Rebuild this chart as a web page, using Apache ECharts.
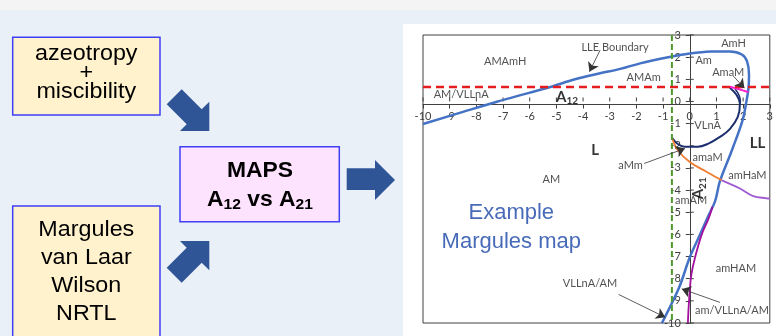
<!DOCTYPE html>
<html>
<head>
<meta charset="utf-8">
<script src="https://cdn.jsdelivr.net/npm/echarts@6/dist/echarts.min.js"></script>
<style>
  html, body { margin: 0; padding: 0; width: 776px; height: 336px; overflow: hidden; background: #e9f0f8; }
  #strip { position: absolute; left: 0; top: 0; width: 776px; height: 10px; background: #f4f4f4; }
  #panel { position: absolute; left: 403px; top: 24px; width: 373px; height: 312px; background: #ffffff; }
  #chart { position: absolute; left: 0; top: 0; width: 776px; height: 336px; }
</style>
</head>
<body>
<div id="strip"></div>
<div id="panel"></div>
<div id="chart"></div>
<script>
// Axis ranges of the A12 / A21 map
const xRange = [-10, 3];
const yRange = [-10, 3];
// Tick values on both axes
const xTicks = [-10, -9, -8, -7, -6, -5, -4, -3, -2, -1, 0, 1, 2, 3];
const yTicks = [-10, -9, -8, -7, -6, -5, -4, -3, -2, -1, 0, 1, 2, 3];

// Reference lines: A12 value (red) and A21 value (green)
const redDashY = 0.65;
const greenDashX = -0.67;

// LLE boundary (blue)
const lleBoundary = [
  [-10, -1.02], [-8.5, -0.47], [-7.2, 0], [-6.2, 0.33], [-5.23, 0.65], [-4.3, 1.0],
  [-3.4, 1.26], [-2.6, 1.47], [-1.86, 1.72], [-0.86, 1.98], [0, 2.16], [0.8, 2.25],
  [1.5, 2.26], [1.95, 2.12], [2.15, 1.8], [2.22, 1.2], [2.2, 0.6], [2.13, 0.05],
  [1.98, -0.84], [1.58, -2.2], [1.13, -3.6], [0.95, -4.5], [0.68, -5.2], [0.35, -6.1],
  [0, -7.03], [-0.4, -8.4], [-1.0, -9.9], [-1.05, -10]
];
// VLLnA region boundary (navy)
const vllnaBoundary = [
  [1.5, 0.62], [1.75, 0.3], [1.88, -0.1], [1.8, -0.7], [1.5, -1.25], [1.13, -1.6],
  [0.7, -1.9], [0.3, -2.04], [-0.2, -2.04], [-0.45, -1.92], [-0.67, -1.63]
];
const vllnaInner = [[1.7, 0.56], [1.86, 0.25], [1.9, -0.05]];
// AmaM boundary (pink)
const amamBoundary = [[1.5, 0.66], [1.85, 0.55], [2.2, 0.42]];
// amaM boundary (orange) and its continuation amHaM (purple)
const amaMBoundary = [[-0.67, -1.63], [-0.45, -2.2], [0, -2.73], [0.64, -3.18], [1.2, -3.56]];
const amHaMBoundary = [[1.2, -3.56], [1.88, -3.93], [2.38, -4.27], [2.88, -4.37], [3, -4.38]];
// amHAM boundary (magenta)
const amHAMBoundary = [[0.85, -4.75], [0.7, -5.3], [0.45, -6.0], [0.2, -7.03], [0.06, -7.8], [0.01, -8.38], [-0.05, -9.44], [-0.07, -10]];

// Region names and annotations: [text, x, y]
const regionNames = [
  ['AMAmH', -6.92, 1.80], ['AMAm', -1.73, 1.09], ['AM/VLLnA', -8.57, 0.33],
  ['Am', 0.52, 1.87], ['AmH', 1.64, 2.63], ['AmaM', 1.44, 1.33],
  ['VLnA', 0.67, -1.07], ['aMm', -2.22, -2.88], ['amaM', 0.67, -2.52],
  ['amHaM', 2.16, -3.33], ['amAM', 0.05, -4.45], ['AM', -5.19, -3.51],
  ['amHAM', 1.73, -7.55], ['VLLnA/AM', -3.74, -8.22], ['am/VLLnA/AM', 1.58, -9.44],
  ['LLE Boundary', -2.8, 2.46]
];
const boldNames = [['L', -3.55, -2.2], ['LL', 2.54, -1.88]];
const axisTitles = [['{a|A}{s|12}', -4.6, 0.2, 0], ['{a|A}{s|21}', 0.33, -3.92, 90]];
const titleLines = [['Example', -6.69, -5.05], ['Margules map', -6.69, -6.36]];

// Pointer arrows: [from, to]
const pointers = [
  [[-3.36, 2.32], [-3.76, 1.34]],
  [[1.63, 1.15], [2.05, 0.6]],
  [[-1.71, -2.8], [-0.18, -2.12]],
  [[-2.67, -8.71], [-0.92, -9.74]],
  [[1.13, -9.07], [-0.3, -8.46]]
];

const chart = echarts.init(document.getElementById('chart'), null, { renderer: 'canvas' });

const axisColor = '#404040';
const tickFont = 'Lato';

function curve(data, color, width, smooth) {
  return {
    type: 'line', data: data, showSymbol: false, smooth: smooth,
    lineStyle: { color: color, width: width }, silent: true, z: 3
  };
}

function textPoints(list, style) {
  return {
    type: 'scatter', symbolSize: 0.1, itemStyle: { color: 'transparent' }, silent: true, z: 6,
    data: list.map(d => ({ value: [d[1], d[2]], name: d[0] })),
    label: Object.assign({ show: true, position: 'inside', formatter: p => p.name }, style)
  };
}

function valueAxis(range, margin) {
  return {
    type: 'value', min: range[0], max: range[1], interval: 1,
    axisLine: { show: true, onZero: false, lineStyle: { color: axisColor, width: 1 } },
    axisTick: { show: true, length: 4, lineStyle: { color: axisColor } },
    axisLabel: { color: axisColor, fontSize: 11, fontFamily: tickFont, margin: margin, showMinLabel: true, showMaxLabel: true },
    splitLine: { show: false }
  };
}

// Inner half of the crossing tick marks, placed through the axis scales
function innerTicks(values, dim) {
  return {
    type: 'custom', silent: true, z: 2,
    data: values.map(v => [v]),
    renderItem: function (params, api) {
      const v = api.value(0);
      const p = dim === 'x' ? api.coord([v, 0]) : api.coord([0, v]);
      const shape = dim === 'x'
        ? { x1: p[0], y1: p[1], x2: p[0], y2: p[1] - 4 }
        : { x1: p[0], y1: p[1], x2: p[0] + 4, y2: p[1] };
      return { type: 'line', shape: shape, style: { stroke: axisColor, lineWidth: 1 } };
    }
  };
}

function boxText(text, x, y, font, sx) {
  return {
    type: 'text', x: x, y: y, scaleX: sx, originX: 0, originY: 0,
    style: { text: text, x: 0, y: 0, textAlign: 'center', textVerticalAlign: 'middle', font: font, fill: '#000' }
  };
}

const boxStroke = '#3f3ff5';
const arrowFill = '#2f5597';
const sans = '"Liberation Sans", Arial, sans-serif';
const boxFont = '22px ' + sans;

const option = {
  backgroundColor: 'transparent',
  animation: false,
  grid: { left: 423, top: 35, width: 347, height: 288, show: true, borderColor: axisColor, borderWidth: 1, backgroundColor: 'transparent' },
  xAxis: valueAxis(xRange, 6),
  yAxis: valueAxis(yRange, 9),
  series: [
    innerTicks(xTicks, 'x'),
    innerTicks(yTicks, 'y'),
    curve(lleBoundary, '#4472c4', 2.5, 0.35),
    curve(vllnaBoundary, '#1c2f6e', 2, 0.4),
    curve(vllnaInner, '#1c2f6e', 1.5, 0.4),
    curve(amaMBoundary, '#ed7d31', 1.8, 0.4),
    curve(amHaMBoundary, '#9e5bd2', 1.8, 0.4),
    curve(amHAMBoundary, '#a3109e', 1.8, 0.4),
    curve(amamBoundary, '#ff1fd2', 2, 0.3),
    {
      type: 'line', showSymbol: false, silent: true, z: 4,
      data: [[xRange[0], redDashY], [xRange[1], redDashY]],
      lineStyle: { color: '#e41e1e', width: 2.5, type: [8, 5] }
    },
    {
      type: 'line', showSymbol: false, silent: true, z: 4,
      data: [[greenDashX, yRange[1]], [greenDashX, yRange[0]]],
      lineStyle: { color: '#4f9a30', width: 2, type: [6, 3] }
    },
    {
      type: 'lines', coordinateSystem: 'cartesian2d', silent: true, z: 5,
      symbol: ['none', 'arrow'], symbolSize: [7, 9],
      data: pointers.map(p => ({ coords: p })),
      lineStyle: { color: '#333333', width: 0.8, opacity: 1 }
    },
    textPoints(regionNames, { color: '#262626', fontSize: 11, fontFamily: tickFont }),
    textPoints(boldNames, { color: '#000000', fontSize: 15, fontWeight: 'bold', fontFamily: tickFont }),
    {
      type: 'scatter', symbolSize: 0.1, itemStyle: { color: 'transparent' }, silent: true, z: 6,
      data: axisTitles.map(d => ({
        value: [d[1], d[2]], name: d[0],
        label: { rotate: d[3] }
      })),
      label: {
        show: true, position: 'inside', formatter: p => p.name,
        rich: {
          a: { fontSize: 15, fontWeight: 'bold', fontFamily: tickFont, color: '#000', lineHeight: 18 },
          s: { fontSize: 10, fontWeight: 'bold', fontFamily: tickFont, color: '#000', lineHeight: 18, verticalAlign: 'bottom', padding: [6, 0, 0, 0] }
        }
      }
    },
    textPoints(titleLines, { color: '#1a46a8', fontSize: 22, fontFamily: sans })
  ],
  graphic: [
    // input boxes
    { type: 'rect', shape: { x: 12.7, y: 37.3, width: 147.3, height: 77.7 }, style: { fill: '#fff2cc', stroke: boxStroke, lineWidth: 1.5 } },
    boxText('azeotropy', 86.3, 54, boxFont, 1.06),
    boxText('+', 86.3, 73, boxFont, 1.06),
    boxText('miscibility', 86.3, 92, boxFont, 1.06),

    { type: 'rect', shape: { x: 12.7, y: 206, width: 147.3, height: 140 }, style: { fill: '#fff2cc', stroke: boxStroke, lineWidth: 1.5 } },
    boxText('Margules', 86.3, 229.6, boxFont, 1.06),
    boxText('van Laar', 86.3, 257.5, boxFont, 1.06),
    boxText('Wilson', 86.3, 285.5, boxFont, 1.06),
    boxText('NRTL', 86.3, 314, boxFont, 1.06),

    // map box
    { type: 'rect', shape: { x: 180, y: 146.7, width: 159.3, height: 75 }, style: { fill: '#fde3fd', stroke: boxStroke, lineWidth: 1.5 } },
    boxText('MAPS', 260, 171.3, 'bold 22px ' + sans, 1.04),
    {
      type: 'text', x: 260, y: 199.6, scaleX: 1.04,
      style: {
        text: '{a|A}{s|12}{a| vs A}{s|21}', x: 0, y: 0, textAlign: 'center', textVerticalAlign: 'middle',
        rich: {
          a: { font: 'bold 22px ' + sans, fill: '#000', lineHeight: 26 },
          s: { font: 'bold 15px ' + sans, fill: '#000', lineHeight: 26, verticalAlign: 'bottom', padding: [8, 0, 0, 0] }
        }
      }
    },

    // block arrows
    { type: 'polygon', shape: { points: [[166.7, 104.3], [181.7, 89.3], [201.7, 109.3], [209.3, 101.7], [209.3, 131], [180, 131], [186.7, 124.3]] }, style: { fill: arrowFill } },
    { type: 'polygon', shape: { points: [[166.7, 267.7], [181.7, 282.7], [201.7, 262.7], [209.3, 270.3], [209.3, 241], [180, 241], [186.7, 247.7]] }, style: { fill: arrowFill } },
    { type: 'polygon', shape: { points: [[346.7, 168.3], [375, 168.3], [375, 160], [395, 180], [375, 200], [375, 190], [346.7, 190]] }, style: { fill: arrowFill } }
  ]
};

chart.setOption(option);

// Move both axes so they cross at the origin, using the grid's own scales
const origin = chart.convertToPixel({ gridIndex: 0 }, [0, 0]);
const lowerLeft = chart.convertToPixel({ gridIndex: 0 }, [xRange[0], yRange[0]]);
chart.setOption({
  xAxis: { offset: -(lowerLeft[1] - origin[1]) },
  yAxis: { offset: -(origin[0] - lowerLeft[0]) }
});
</script>
</body>
</html>
